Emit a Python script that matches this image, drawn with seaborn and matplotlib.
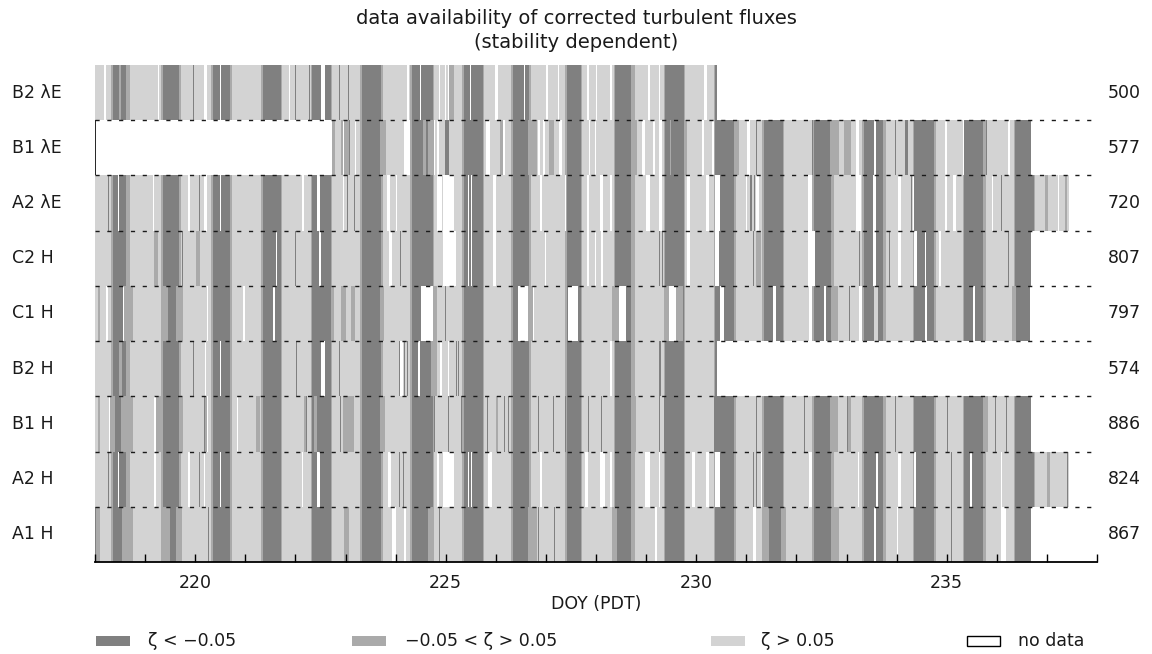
import numpy as np
import matplotlib
matplotlib.use("Agg")
import matplotlib.pyplot as plt
from matplotlib.colors import ListedColormap
from matplotlib.patches import Rectangle
import seaborn as sns

sns.set_theme(style="white")
plt.rcParams["font.family"] = ["DejaVu Sans"]

# ---------------------------------------------------------------- data
rows = ["B2 λE", "B1 λE", "A2 λE", "C2 H", "C1 H", "B2 H", "B1 H", "A2 H", "A1 H"]
counts = [500, 577, 720, 807, 797, 574, 886, 824, 867]
first_doy = [218.0, 222.72, 218.0, 218.0, 218.0, 218.0, 218.0, 218.0, 218.0]
last_doy = [230.41, 236.68, 237.43, 236.68, 236.66, 230.41, 236.68, 237.43, 236.68]

# daily stability cycle (DOY, PDT)
days = list(range(218, 237))
neutral_am = [218.32, 219.32, 220.32, 221.32, 222.31, 223.30, 224.30, 225.34, 226.31, 227.37,
              228.35, 229.35, 230.35, 231.32, 232.32, 233.32, 234.33, 235.33, 236.33]
unstable_on = [218.36, 219.36, 220.35, 221.36, 222.33, 223.33, 224.33, 225.37, 226.34, 227.41,
               228.38, 229.38, 230.38, 231.35, 232.35, 233.35, 234.36, 235.36, 236.36]
unstable_off = [218.63, 219.66, 220.69, 221.70, 222.70, 223.70, 224.74, 225.74, 226.66, 227.70,
                228.71, 229.75, 230.75, 231.72, 232.69, 233.72, 234.76, 235.73, 236.74]
neutral_pm = [218.70, 219.70, 220.72, 221.73, 222.73, 223.76, 224.77, 225.77, 226.70, 227.73,
              228.77, 229.78, 230.80, 231.76, 232.76, 233.79, 234.80, 235.80, 236.78]

# per-sensor missing half hours (start, end)
gaps = [
    [(218.19, 218.23), (219.26, 219.28), (220.16, 220.23), (220.51, 220.53), (221.87, 221.90),
     (222.53, 222.58), (224.23, 224.28), (224.47, 224.49), (224.87, 224.89), (224.97, 225.00),
     (225.04, 225.07), (225.47, 225.49), (225.97, 226.04), (226.56, 226.59), (227.00, 227.04),
     (227.24, 227.27), (227.81, 227.85), (228.01, 228.03), (228.28, 228.31), (229.05, 229.08),
     (229.25, 229.28), (230.15, 230.21)],
    [(222.95, 222.97), (223.19, 223.21), (224.17, 224.30), (224.77, 224.80), (224.84, 224.87),
     (225.81, 225.87), (226.14, 226.18), (226.84, 226.87), (226.94, 226.97), (227.27, 227.32),
     (227.85, 227.87), (227.98, 228.01), (228.91, 228.98), (229.15, 229.18), (229.25, 229.31),
     (230.12, 230.15), (230.31, 230.35), (231.02, 231.09), (233.19, 233.25), (233.55, 233.59),
     (234.96, 234.99), (235.33, 235.36), (236.23, 236.28)],
    [(218.46, 218.48), (219.16, 219.19), (219.86, 219.89), (220.16, 220.23), (220.51, 220.53),
     (222.13, 222.17), (222.43, 222.50), (222.95, 222.97), (223.83, 223.90), (223.99, 224.03),
     (224.84, 224.91), (224.94, 225.16), (225.44, 225.46), (225.49, 225.52), (225.94, 226.01),
     (226.87, 226.91), (227.37, 227.40), (227.81, 227.85), (228.08, 228.15), (228.28, 228.31),
     (229.01, 229.08), (229.25, 229.31), (229.81, 229.88), (230.18, 230.25), (230.38, 230.48),
     (231.00, 231.02), (231.19, 231.24), (232.22, 232.32), (233.19, 233.29), (233.52, 233.59),
     (234.02, 234.09), (234.33, 234.36), (234.96, 235.01), (235.13, 235.19), (235.89, 235.91),
     (237.23, 237.26)],
    [(221.61, 221.63), (222.47, 222.53), (223.87, 223.93), (224.94, 225.21), (225.44, 225.45),
     (225.49, 225.52), (225.94, 226.00), (226.97, 226.99), (227.81, 227.85), (227.98, 228.01),
     (228.11, 228.15), (229.81, 229.88), (230.38, 230.45), (232.22, 232.37), (233.52, 233.59),
     (234.02, 234.09), (234.36, 234.41), (234.56, 234.59), (234.86, 234.89)],
    [(218.23, 218.26), (218.56, 218.57), (220.23, 220.26), (220.96, 221.00), (221.57, 221.59),
     (224.50, 224.74), (226.44, 226.64), (226.74, 226.77), (227.44, 227.64), (228.45, 228.61),
     (229.45, 229.61), (230.48, 230.56), (231.55, 231.59), (232.25, 232.32), (232.55, 232.59),
     (233.25, 233.32), (234.56, 234.61), (235.53, 235.57)],
    [(220.19, 220.21), (220.51, 220.53), (222.52, 222.59), (224.08, 224.15), (224.44, 224.47),
     (224.89, 224.90), (225.05, 225.07), (228.28, 228.31)],
    [(218.28, 218.30), (219.19, 219.20), (220.22, 220.24), (220.83, 220.85)],
    [(218.46, 218.48), (219.18, 219.20), (219.86, 219.89), (220.16, 220.19), (220.51, 220.53),
     (222.12, 222.15), (222.43, 222.50), (223.85, 223.92), (224.84, 224.87), (224.94, 225.16),
     (225.44, 225.46), (225.49, 225.52), (225.85, 225.92), (226.87, 226.91), (227.78, 227.83),
     (228.08, 228.18), (228.28, 228.31), (228.98, 229.08), (229.25, 229.28), (229.91, 229.98),
     (230.18, 230.25), (230.38, 230.48), (231.29, 231.32), (232.25, 232.32), (233.22, 233.25),
     (233.59, 233.62), (234.02, 234.09), (234.36, 234.39), (235.45, 235.49), (236.08, 236.11)],
    [(223.93, 223.99), (224.17, 224.20), (229.18, 229.20), (231.12, 231.19), (233.55, 233.59),
     (233.99, 234.02), (236.09, 236.19)],
]

# per-sensor near-neutral periods outside the daily cycle
extra_neutral = [
    [(218.47, 218.53), (225.07, 225.16)],
    [(222.72, 222.79), (222.92, 223.07), (223.68, 223.81), (224.54, 224.61), (224.64, 224.77),
     (226.08, 226.14), (226.64, 226.81), (227.07, 227.17), (228.71, 228.81), (229.48, 229.51),
     (229.75, 229.81), (230.75, 230.85), (232.67, 232.85), (232.95, 233.09), (233.72, 233.79)],
    [(236.96, 237.03), (237.36, 237.39)],
    [(219.19, 219.26), (220.03, 220.10), (231.19, 231.29)],
    [(218.06, 218.11), (218.57, 218.76), (219.32, 219.45), (219.63, 219.76), (222.70, 222.78),
     (222.92, 223.00), (223.10, 223.18), (223.68, 223.77), (224.74, 224.84), (226.64, 226.77),
     (228.31, 228.45), (229.35, 229.45), (229.61, 229.73), (232.69, 232.84), (235.33, 235.36),
     (235.73, 235.80), (236.32, 236.38)],
    [(218.47, 218.55), (224.71, 224.84)],
    [(218.06, 218.11), (218.28, 218.39), (218.53, 218.76), (219.20, 219.36), (219.66, 219.76),
     (220.16, 220.23), (221.20, 221.30), (222.17, 222.23), (222.37, 222.43), (222.96, 223.16),
     (223.68, 223.80), (225.99, 226.04), (228.71, 228.80), (232.67, 232.83), (232.99, 233.09),
     (233.72, 233.79), (235.73, 235.83)],
    [(237.00, 237.07)],
    [(218.03, 218.11), (218.54, 218.76), (219.33, 219.49), (219.63, 219.73), (222.97, 223.07),
     (224.64, 224.74), (226.64, 226.81), (228.31, 228.41), (231.35, 231.45), (231.69, 231.79),
     (232.69, 232.85), (233.72, 233.79)],
]

# per-sensor unstable periods outside the daily cycle
extra_unstable = [
    [],
    [(224.97, 225.07), (234.16, 234.23)],
    [], [], [], [], [], [], [],
]

# per-sensor stable breaks inside the daytime block
extra_stable = [
    [], [(233.55, 233.59)], [], [(233.55, 233.59)], [(233.55, 233.62)], [], [], [], [],
]

# single unstable half hours at night
unstable_spikes = [
    [219.96, 222.00, 222.27, 222.87, 223.05],
    [223.07, 223.55, 231.19, 232.32, 233.95, 235.79],
    [218.26, 220.09, 223.03, 223.16, 231.09, 231.15, 234.29, 236.09],
    [219.72, 222.01, 224.09, 229.25, 229.31, 231.12, 233.25, 233.85, 236.23],
    [224.97, 231.39, 233.05],
    [219.96, 222.03, 222.87, 224.07, 224.16, 224.23, 225.21, 225.24, 229.25, 229.28],
    [219.19, 220.16, 222.20, 222.90, 224.54, 224.64, 224.77, 225.04, 225.31, 225.84, 226.17,
     226.24, 226.84, 227.14, 227.37, 227.83, 228.11, 229.25, 229.35, 230.35, 231.19, 232.15,
     233.00, 233.95, 235.01, 235.96, 236.19],
    [218.26, 220.09, 224.06, 224.15, 231.12, 231.19, 235.09, 237.39],
    [218.00, 220.26, 224.87, 225.47, 226.57, 226.84, 227.17, 235.09],
]

class_labels = ["ζ < −0.05", "−0.05 < ζ > 0.05", "ζ > 0.05", "no data"]
class_colors = ["#808080", "#aaaaaa", "#d3d3d3"]

# ---------------------------------------------------------------- grid of half hours
DOY0, DOY1, PER_DAY = 218, 238, 48
n_slots = (DOY1 - DOY0) * PER_DAY


def slot(d):
    return int(np.clip(round((d - DOY0) * PER_DAY), 0, n_slots))


def fill(line, start, end, value):
    a, b = slot(start), slot(end)
    line[a:max(b, a + 1)] = value


grid = np.full((len(rows), n_slots), np.nan)
for r in range(len(rows)):
    line = np.full(n_slots, 2.0)
    for na, on, off, npm in zip(neutral_am, unstable_on, unstable_off, neutral_pm):
        fill(line, na, npm, 1.0)
        fill(line, on, off, 0.0)
    for s, e in extra_neutral[r]:
        fill(line, s, e, 1.0)
    for s, e in extra_unstable[r]:
        fill(line, s, e, 0.0)
    for s, e in extra_stable[r]:
        fill(line, s, e, 2.0)
    for d in unstable_spikes[r]:
        fill(line, d, d, 0.0)
    for s, e in gaps[r]:
        fill(line, s, e, np.nan)
    line[:slot(first_doy[r])] = np.nan
    line[slot(last_doy[r]):] = np.nan
    grid[r] = line

# ---------------------------------------------------------------- figure
W, H = 1152, 654
fig = plt.figure(figsize=(W / 100, H / 100), dpi=100)
fig.patch.set_facecolor("white")
ax = fig.add_axes([95 / W, 1 - 562 / H, 1002 / W, 497 / H])

sns.heatmap(grid, ax=ax, cmap=ListedColormap(class_colors), vmin=-0.5, vmax=2.5,
            cbar=False, xticklabels=False, yticklabels=False, linewidths=0)
ax.set_facecolor("white")
ax.set_axisbelow(False)
ax.set_xlim(0, n_slots)
ax.set_ylim(len(rows), 0)

# outline where a record starts with missing data
for r in range(len(rows)):
    if np.isnan(grid[r, 0]):
        ax.plot([0, 0], [r, r + 1], color="black", lw=1.2, solid_capstyle="butt")

# dotted separators between the records
for y in range(1, len(rows)):
    ax.axhline(y, color="#1a1a1a", lw=1.0, linestyle=(0, (3, 5.5)))

for side in ["left", "right", "top"]:
    ax.spines[side].set_visible(False)
ax.spines["bottom"].set_visible(True)
ax.spines["bottom"].set_color("black")
ax.spines["bottom"].set_linewidth(1.3)
ax.spines["bottom"].set_zorder(5)

tick_days = np.arange(DOY0, DOY1 + 1)
ax.set_xticks((tick_days - DOY0) * PER_DAY)
ax.set_xticklabels([str(d) if d % 5 == 0 else "" for d in tick_days])
ax.tick_params(axis="x", direction="in", length=6, width=1, color="black",
               labelsize=12.5, pad=9, labelcolor="#1a1a1a", bottom=True)
ax.xaxis.set_zorder(5)
ax.set_yticks([])
ax.set_xlabel("DOY (PDT)", fontsize=12.5, color="#1a1a1a", labelpad=2)
ax.set_ylabel("")

ytf = ax.get_yaxis_transform()
for r, (name, n) in enumerate(zip(rows, counts)):
    ax.text(-83 / 1002, r + 0.5, name, transform=ytf, ha="left", va="center",
            fontsize=12.5, color="#1a1a1a")
    ax.text(1.011, r + 0.5, str(n), transform=ytf, ha="left", va="center",
            fontsize=12.5, color="#1a1a1a")

fig.text(0.5, 1 - 18 / H, "data availability of corrected turbulent fluxes",
         ha="center", va="center", fontsize=14, color="#1a1a1a")
fig.text(0.5, 1 - 42 / H, "(stability dependent)",
         ha="center", va="center", fontsize=14, color="#1a1a1a")

# legend row
swatch_x = [96, 352, 711, 967]
text_x = [148, 405, 761, 1018]
legend_y = 641
for i, (sx, tx, lab) in enumerate(zip(swatch_x, text_x, class_labels)):
    if i < 3:
        rect = Rectangle((sx / W, 1 - (legend_y + 5) / H), 34 / W, 10 / H,
                         transform=fig.transFigure, facecolor=class_colors[i],
                         edgecolor="none")
    else:
        rect = Rectangle((sx / W, 1 - (legend_y + 5) / H), 33 / W, 10 / H,
                         transform=fig.transFigure, facecolor="white",
                         edgecolor="black", lw=1.0)
    fig.patches.append(rect)
    fig.text(tx / W, 1 - legend_y / H, lab, ha="left", va="center",
             fontsize=12.5, color="#1a1a1a")

fig.savefig("out.png", dpi=100, facecolor="white")
